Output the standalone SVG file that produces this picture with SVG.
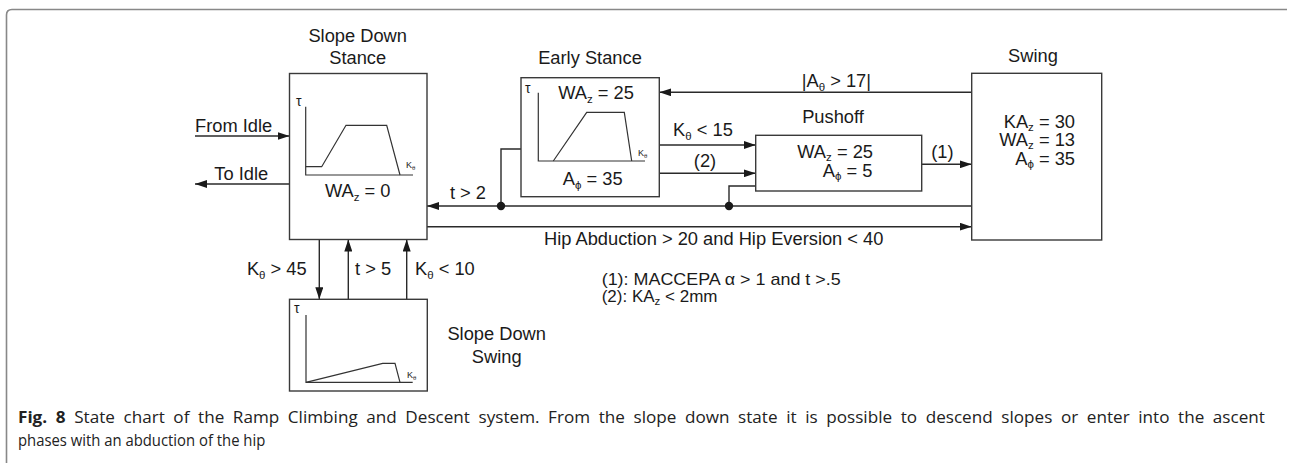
<svg xmlns="http://www.w3.org/2000/svg" width="1289" height="463" viewBox="0 0 1289 463">
<style>
.box{fill:#fff;stroke:#3a3a3a;stroke-width:1.4}
.ln{fill:none;stroke:#2a2a2a;stroke-width:1.4}
.ax{fill:none;stroke:#333;stroke-width:1.2}
.t{font-family:"Liberation Sans",Arial,sans-serif;font-size:18.3px;fill:#1a1a1a}
.n{font-size:17px}
.s{font-size:11.5px}
.g{font-family:"Liberation Sans",Arial,sans-serif;font-size:14px;fill:#1a1a1a}
.k{font-family:"Liberation Sans",Arial,sans-serif;font-size:9px;fill:#1a1a1a}
.cap{font-family:"Open Sans","Noto Sans",sans-serif;font-size:16.5px;fill:#222}
</style>
<defs>
<marker id="ah" markerWidth="12" markerHeight="8" refX="12" refY="4" orient="auto" markerUnits="userSpaceOnUse">
<path d="M0,0 L12,4 L0,8 z" fill="#1a1a1a"/>
</marker>
</defs>
<rect width="1289" height="463" fill="#fff"/>
<path d="M6.5,463 V15 Q6.5,9.5 12,9.5 H1287" fill="none" stroke="#888" stroke-width="1.6"/>

<g id="connectors">
<path class="ln" d="M195,136 H289.5" marker-end="url(#ah)"/>
<path class="ln" d="M289.5,184 H195" marker-end="url(#ah)"/>
<path class="ln" d="M972,92.3 H659.3" marker-end="url(#ah)"/>
<path class="ln" d="M659.3,145 H755.7" marker-end="url(#ah)"/>
<path class="ln" d="M659.3,173.3 H755.7" marker-end="url(#ah)"/>
<path class="ln" d="M921.7,164.3 H971.7" marker-end="url(#ah)"/>
<path class="ln" d="M972,206 H427" marker-end="url(#ah)"/>
<path class="ln" d="M521,149 H501 V206"/>
<path class="ln" d="M755.7,186 H729 V206"/>
<circle cx="501" cy="206" r="4.2" fill="#1a1a1a"/>
<circle cx="729" cy="206" r="4.2" fill="#1a1a1a"/>
<path class="ln" d="M427,226.7 H971.7" marker-end="url(#ah)"/>
<path class="ln" d="M319.3,239.5 V299.3" marker-end="url(#ah)"/>
<path class="ln" d="M348.3,299.3 V239.5" marker-end="url(#ah)"/>
<path class="ln" d="M406.7,299.3 V239.5" marker-end="url(#ah)"/>
<text class="t" x="195" y="131.7">From Idle</text>
<text class="t" x="214.3" y="180">To Idle</text>
<text class="t" x="801.7" y="86.7">|A<tspan class="s" dy="4">θ</tspan><tspan dy="-4"> &gt; 17|</tspan></text>
<text class="t" x="703" y="136" text-anchor="middle">K<tspan class="s" dy="4">θ</tspan><tspan dy="-4"> &lt; 15</tspan></text>
<text class="t" x="705" y="166.7" text-anchor="middle">(2)</text>
<text class="t" x="942.3" y="158.3" text-anchor="middle">(1)</text>
<text class="t" x="468" y="199" text-anchor="middle">t &gt; 2</text>
<text class="t" x="544" y="245">Hip Abduction &gt; 20 and Hip Eversion &lt; 40</text>
<text class="t" x="306.7" y="275" text-anchor="end">K<tspan class="s" dy="4">θ</tspan><tspan dy="-4"> &gt; 45</tspan></text>
<text class="t" x="355" y="275">t &gt; 5</text>
<text class="t" x="415" y="275">K<tspan class="s" dy="4">θ</tspan><tspan dy="-4"> &lt; 10</tspan></text>
</g>

<g id="slope-down-stance">
<text class="t" x="357.7" y="41.7" text-anchor="middle">Slope Down</text>
<text class="t" x="357.7" y="64" text-anchor="middle">Stance</text>
<rect class="box" x="289.5" y="73.5" width="137.5" height="166"/>
<text class="g" x="296" y="106">τ</text>
<path class="ax" d="M305.7,106.7 V175 H413"/>
<path class="ax" d="M305.7,166.7 H321.7 L346,125.3 H386.7 L400,175"/>
<text class="k" x="406" y="168">K<tspan font-size="6" dy="2">θ</tspan></text>
<text class="t" x="357.7" y="196.7" text-anchor="middle">WA<tspan class="s" dy="4">z</tspan><tspan dy="-4"> = 0</tspan></text>
</g>

<g id="early-stance">
<text class="t" x="590" y="64.3" text-anchor="middle">Early Stance</text>
<rect class="box" x="521" y="77.7" width="138.3" height="119"/>
<text class="g" x="525" y="93">τ</text>
<path class="ax" d="M538.3,92.7 V161 H645"/>
<path class="ax" d="M553.3,161 L586.7,112.3 H624.3 L631.7,161"/>
<text class="k" x="638" y="156">K<tspan font-size="6" dy="2">θ</tspan></text>
<text class="t" x="596" y="99.3" text-anchor="middle">WA<tspan class="s" dy="4">z</tspan><tspan dy="-4"> = 25</tspan></text>
<text class="t" x="592.7" y="185" text-anchor="middle">A<tspan class="s" dy="4">ϕ</tspan><tspan dy="-4"> = 35</tspan></text>
</g>

<g id="pushoff">
<text class="t" x="833" y="123.3" text-anchor="middle">Pushoff</text>
<rect class="box" x="755.7" y="135.3" width="166" height="55.7"/>
<text class="t" x="797.3" y="158.3">WA<tspan class="s" dy="3">z</tspan><tspan dy="-3"> = 25</tspan></text>
<text class="t" x="822.7" y="177">A<tspan class="s" dy="3">ϕ</tspan><tspan dy="-3"> = 5</tspan></text>
</g>

<g id="swing">
<text class="t" x="1033" y="61.7" text-anchor="middle">Swing</text>
<rect class="box" x="971.7" y="73.3" width="130" height="166.7"/>
<text class="t" x="1075" y="127.7" text-anchor="end">KA<tspan class="s" dy="3">z</tspan><tspan dy="-3"> = 30</tspan></text>
<text class="t" x="1075" y="146" text-anchor="end">WA<tspan class="s" dy="3">z</tspan><tspan dy="-3"> = 13</tspan></text>
<text class="t" x="1075" y="165" text-anchor="end">A<tspan class="s" dy="3">ϕ</tspan><tspan dy="-3"> = 35</tspan></text>
</g>

<g id="slope-down-swing">
<rect class="box" x="289.5" y="299.3" width="137.8" height="91.7"/>
<text class="g" x="294" y="313.3">τ</text>
<path class="ax" d="M306,315 V382.3 H412.7"/>
<path class="ax" d="M306,382.3 L382.7,363.3 H395 L400,382.3"/>
<text class="k" x="407" y="378">K<tspan font-size="6" dy="2">θ</tspan></text>
<text class="t" x="496.7" y="340" text-anchor="middle">Slope Down</text>
<text class="t" x="496.7" y="363.3" text-anchor="middle">Swing</text>
</g>

<g id="notes">
<text class="t n" x="601.7" y="285" textLength="239" lengthAdjust="spacingAndGlyphs">(1): MACCEPA α &gt; 1 and t &gt;.5</text>
<text class="t n" x="601.7" y="302">(2): KA<tspan class="s" dy="3">z</tspan><tspan dy="-3"> &lt; 2mm</tspan></text>
</g>

<g id="caption" transform="scale(0.9,1)">
<text class="cap" x="20" y="423" word-spacing="4" textLength="1385.5" lengthAdjust="spacingAndGlyphs"><tspan font-weight="bold">Fig. 8</tspan> State chart of the Ramp Climbing and Descent system. From the slope down state it is possible to descend slopes or enter into the ascent</text>
<text class="cap" x="20" y="446">phases with an abduction of the hip</text>
</g>
</svg>
